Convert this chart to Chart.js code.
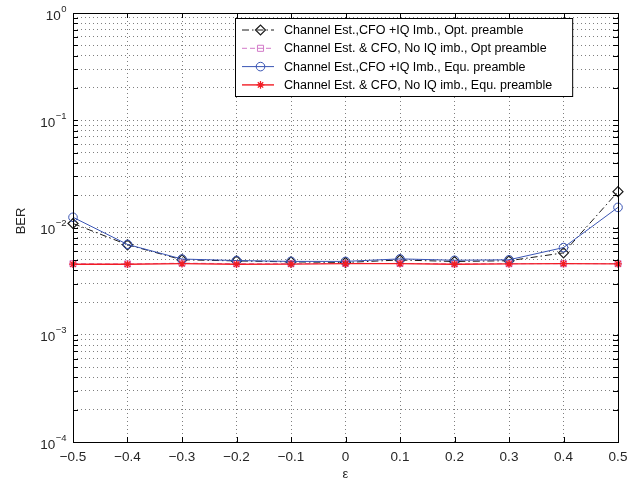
<!DOCTYPE html>
<html>
<head>
<meta charset="utf-8">
<script src="https://cdn.jsdelivr.net/npm/chart.js@4.4.1/dist/chart.umd.min.js"></script>
<style>
  html, body { margin: 0; padding: 0; background: #fff; }
  canvas { display: block; }
</style>
</head>
<body>
<canvas id="chart" width="642" height="487"></canvas>
<script>
// epsilon values on the x axis
const epsValues = [-0.5, -0.4, -0.3, -0.2, -0.1, 0, 0.1, 0.2, 0.3, 0.4, 0.5];

// BER curves
const berOptIQ   = [1.09e-2, 6.9e-3, 5.0e-3, 4.88e-3, 4.78e-3, 4.72e-3, 4.98e-3, 4.82e-3, 4.9e-3, 5.8e-3, 2.16e-2];
const berOptNoIQ = [4.6e-3, 4.57e-3, 4.65e-3, 4.6e-3, 4.6e-3, 4.62e-3, 4.62e-3, 4.58e-3, 4.6e-3, 4.6e-3, 4.6e-3];
const berEquIQ   = [1.245e-2, 6.95e-3, 5.08e-3, 4.92e-3, 4.83e-3, 4.83e-3, 5.1e-3, 4.95e-3, 5.0e-3, 6.5e-3, 1.54e-2];
const berEquNoIQ = [4.55e-3, 4.55e-3, 4.6e-3, 4.55e-3, 4.56e-3, 4.6e-3, 4.6e-3, 4.55e-3, 4.58e-3, 4.6e-3, 4.58e-3];

const seriesNames = [
  'Channel Est.,CFO +IQ Imb., Opt. preamble',
  'Channel Est. & CFO, No IQ imb., Opt preamble',
  'Channel Est.,CFO +IQ Imb., Equ. preamble',
  'Channel Est. & CFO, No IQ imb., Equ. preamble'
];

const xTicks = [-0.5, -0.4, -0.3, -0.2, -0.1, 0, 0.1, 0.2, 0.3, 0.4, 0.5];
const yDecades = [-4, -3, -2, -1, 0];

const FONT = '"Liberation Sans", Arial, Helvetica, sans-serif';

function pts(arr) {
  return epsValues.map((x, i) => ({ x: x, y: arr[i] }));
}

function fmtX(v) {
  if (Math.abs(v) < 1e-9) return '0';
  return v.toFixed(1).replace('-', '\u2212');
}

// all 1..9 x 10^k values for the log grid
const yGrid = [];
for (let k = -4; k < 0; k++) {
  for (let m = 1; m <= 9; m++) yGrid.push(+(m * Math.pow(10, k)).toPrecision(3));
}
yGrid.push(1);

const matlabFrame = {
  id: 'matlabFrame',
  afterDraw(chart) {
    const ctx = chart.ctx;
    const a = chart.chartArea;
    const xs = chart.scales.x, ys = chart.scales.y;
    ctx.save();

    // axes box
    ctx.strokeStyle = '#000';
    ctx.lineWidth = 1;
    ctx.strokeRect(Math.round(a.left) + 0.5, Math.round(a.top) + 0.5,
      Math.round(a.right - a.left), Math.round(a.bottom - a.top));

    // inner ticks
    ctx.beginPath();
    xTicks.forEach(v => {
      const px = Math.round(xs.getPixelForValue(v)) + 0.5;
      ctx.moveTo(px, a.bottom); ctx.lineTo(px, a.bottom - 5);
      ctx.moveTo(px, a.top); ctx.lineTo(px, a.top + 5);
    });
    yGrid.forEach(v => {
      const py = Math.round(ys.getPixelForValue(v)) + 0.5;
      ctx.moveTo(a.left, py); ctx.lineTo(a.left + 5, py);
      ctx.moveTo(a.right, py); ctx.lineTo(a.right - 5, py);
    });
    ctx.stroke();

    // y tick labels 10^k
    ctx.fillStyle = '#262626';
    ctx.textBaseline = 'middle';
    ctx.textAlign = 'left';
    yDecades.forEach(k => {
      const py = ys.getPixelForValue(Math.pow(10, k));
      const sup = k === 0 ? '0' : '\u2212' + Math.abs(k);
      ctx.font = '13.5px ' + FONT;
      const bw = ctx.measureText('10').width;
      ctx.font = '9.5px ' + FONT;
      const sw = ctx.measureText(sup).width;
      const x0 = a.left - 7 - sw - bw;
      ctx.font = '13.5px ' + FONT;
      ctx.fillText('10', x0, py + 3);
      ctx.font = '9.5px ' + FONT;
      ctx.fillText(sup, x0 + bw + 0.5, py - 4);
    });

    // axis titles
    ctx.font = '13px ' + FONT;
    ctx.textAlign = 'center';
    ctx.fillText('\u03b5', (a.left + a.right) / 2, 474);
    ctx.save();
    ctx.translate(21, 221);
    ctx.rotate(-Math.PI / 2);
    ctx.fillText('BER', 0, 0);
    ctx.restore();

    // legend
    const lx = 235, ly = 18, rowH = 18.3, textX = 284;
    ctx.font = '12.5px ' + FONT;
    let maxW = 0;
    seriesNames.forEach(n => { maxW = Math.max(maxW, ctx.measureText(n).width); });
    const bw = textX - lx + maxW + 20;
    const bh = 78;
    ctx.fillStyle = '#fff';
    ctx.fillRect(lx, ly, bw, bh);
    ctx.strokeStyle = '#000';
    ctx.lineWidth = 1;
    ctx.strokeRect(lx + 0.5, ly + 0.5, bw, bh);

    chart.data.datasets.forEach((ds, i) => {
      const y = ly + 12 + i * rowH;
      ctx.save();
      ctx.strokeStyle = ds.borderColor;
      ctx.lineWidth = ds.borderWidth;
      ctx.setLineDash(ds.borderDash || []);
      ctx.beginPath();
      ctx.moveTo(242, y); ctx.lineTo(274, y);
      ctx.stroke();
      ctx.setLineDash([]);
      ctx.lineWidth = ds.pointBorderWidth;
      ctx.fillStyle = 'rgba(0,0,0,0)';
      Chart.helpers.drawPoint(ctx, {
        pointStyle: ds.pointStyle, radius: ds.pointRadius, rotation: 0,
        borderWidth: ds.pointBorderWidth
      }, 260.5, y);
      ctx.restore();
      ctx.fillStyle = '#000';
      ctx.textAlign = 'left';
      ctx.textBaseline = 'middle';
      ctx.fillText(seriesNames[i], textX, y + 0.5);
    });
    ctx.restore();
  }
};

new Chart(document.getElementById('chart').getContext('2d'), {
  type: 'line',
  data: {
    datasets: [
      {
        data: pts(berOptIQ), borderColor: '#1a1a1a', borderWidth: 1,
        borderDash: [7, 3, 1.5, 3], pointStyle: 'rectRot', pointRadius: 5,
        pointBorderWidth: 1.2, pointBorderColor: '#1a1a1a',
        pointBackgroundColor: 'rgba(0,0,0,0)', order: 3, clip: false
      },
      {
        data: pts(berOptNoIQ), borderColor: '#d27ac8', borderWidth: 1,
        borderDash: [5, 3], pointStyle: 'rect', pointRadius: 4.3,
        pointBorderWidth: 1, pointBorderColor: '#d27ac8',
        pointBackgroundColor: 'rgba(0,0,0,0)', order: 2, clip: false
      },
      {
        data: pts(berEquIQ), borderColor: '#3a55b4', borderWidth: 1,
        pointStyle: 'circle', pointRadius: 4.3,
        pointBorderWidth: 1, pointBorderColor: '#3a55b4',
        pointBackgroundColor: 'rgba(0,0,0,0)', order: 1, clip: false
      },
      {
        data: pts(berEquNoIQ), borderColor: '#f21c24', borderWidth: 1.4,
        pointStyle: 'star', pointRadius: 3.8,
        pointBorderWidth: 1.3, pointBorderColor: '#f21c24',
        pointBackgroundColor: 'rgba(0,0,0,0)', order: 0, clip: false
      }
    ]
  },
  options: {
    responsive: false,
    animation: false,
    events: [],
    layout: { padding: { top: 13, right: 24, left: 0, bottom: 0 } },
    plugins: { legend: { display: false }, tooltip: { enabled: false } },
    scales: {
      x: {
        type: 'linear', min: -0.5, max: 0.5,
        afterBuildTicks: s => { s.ticks = xTicks.map(v => ({ value: v })); },
        afterFit: s => { s.height = 45; },
        grid: { color: 'rgba(0,0,0,0.5)', lineWidth: 1, drawTicks: false },
        border: { display: false, dash: [1, 3] },
        ticks: {
          color: '#262626', padding: 7, maxRotation: 0, autoSkip: false,
          font: { family: FONT, size: 13.5 },
          callback: v => fmtX(v)
        }
      },
      y: {
        type: 'logarithmic', min: 1e-4, max: 1,
        afterBuildTicks: s => { s.ticks = yGrid.map(v => ({ value: v })); },
        afterFit: s => { s.width = 73; },
        grid: { color: 'rgba(0,0,0,0.5)', lineWidth: 1, drawTicks: false },
        border: { display: false, dash: [1, 3] },
        ticks: { display: false }
      }
    }
  },
  plugins: [matlabFrame]
});
</script>
</body>
</html>
